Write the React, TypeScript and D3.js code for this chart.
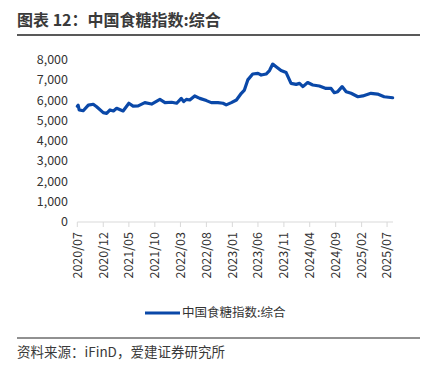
import React from "react";
import * as d3 from "d3";

const dates: string[] = [
  "2020-07-01","2020-07-06","2020-07-12","2020-08-05","2020-09-04","2020-10-03","2020-10-23","2020-12-01","2020-12-21",
  "2021-01-10","2021-01-30","2021-02-18","2021-03-28","2021-05-01","2021-05-26","2021-06-25","2021-08-03","2021-09-12",
  "2021-10-31","2021-11-30","2022-01-08","2022-02-07","2022-03-06","2022-03-20","2022-04-05","2022-04-25","2022-05-24",
  "2022-06-23","2022-08-01","2022-08-30","2022-10-08","2022-11-07","2022-11-26","2022-12-26","2023-01-25","2023-02-23",
  "2023-03-13","2023-04-02","2023-05-01","2023-06-01","2023-06-20","2023-07-19","2023-08-08","2023-08-27","2023-09-16",
  "2023-10-15","2023-11-14","2023-12-13","2024-01-12","2024-02-01","2024-02-21","2024-03-20","2024-04-19","2024-05-28",
  "2024-07-06","2024-08-05","2024-08-24","2024-09-13","2024-10-09","2024-11-02","2024-12-01","2025-01-10","2025-02-08",
  "2025-03-28","2025-05-06","2025-06-14","2025-08-03"
];
const values: number[] = [
  5700,5750,5520,5480,5760,5800,5680,5390,5350,
  5520,5470,5600,5470,5850,5710,5720,5880,5810,
  6040,5880,5900,5850,6090,5930,6040,6010,6210,
  6090,5980,5880,5880,5850,5770,5880,6010,6340,
  6500,7000,7290,7320,7240,7290,7460,7780,7650,
  7460,7360,6830,6780,6830,6670,6870,6750,6700,
  6580,6580,6370,6420,6670,6420,6340,6170,6210,
  6340,6300,6170,6120
];
const xTickLabels: string[] = ["2020/07","2020/12","2021/05","2021/10","2022/03","2022/08","2023/01","2023/06","2023/11","2024/04","2024/09","2025/02","2025/07"];
const yTicks: number[] = [0,1000,2000,3000,4000,5000,6000,7000,8000];
const seriesName = "中国食糖指数:综合";
const title = "图表 12：中国食糖指数:综合";
const source = "资料来源：iFinD，爱建证券研究所";

const W = 425, H = 365;
const FONT = "'Noto Sans CJK SC', 'Liberation Sans', sans-serif";
const LINE = "#0a48a8";

export default function App() {
  const parse = d3.timeParse("%Y-%m-%d");
  const parseM = d3.timeParse("%Y/%m");
  const data = dates.map((d, i) => ({ date: parse(d) as Date, v: values[i] }));
  const x = d3.scaleTime()
    .domain([parseM("2020/07") as Date, parse("2025-08-05") as Date])
    .range([77.3, 393]);
  const y = d3.scaleLinear().domain([0, 8000]).range([222, 59.6]);
  const line = d3.line<{ date: Date; v: number }>()
    .x(d => x(d.date)).y(d => y(d.v)).curve(d3.curveLinear);
  const fmt = d3.format(",");

  return (
    <svg width={W} height={H} style={{ position: "absolute", left: 0, top: 0, background: "#fff" }} fontFamily={FONT}>
      <text x={17} y={26} fontSize={16} fontWeight="bold" fill="#3a3a3a">{title}</text>
      <line x1={17} x2={420} y1={35} y2={35} stroke="#222" strokeWidth={1.5} />
      {yTicks.map(t => (
        <text key={t} x={68} y={y(t)} dy="0.35em" textAnchor="end" fontSize={12.5} fill="#333">{fmt(t)}</text>
      ))}
      <line x1={x(parseM("2020/07") as Date)} x2={393} y1={222} y2={222} stroke="#d9d9d9" strokeWidth={1} />
      {xTickLabels.map(l => {
        const xx = x(parseM(l) as Date);
        return (
          <g key={l}>
            <line x1={xx} x2={xx} y1={222} y2={227} stroke="#d9d9d9" strokeWidth={1} />
            <text transform={`translate(${xx},232) rotate(-90)`} dy="0.35em" textAnchor="end" fontSize={12.5} fill="#333">{l}</text>
          </g>
        );
      })}
      <path d={line(data) || ""} fill="none" stroke={LINE} strokeWidth={3.2} strokeLinejoin="round" strokeLinecap="round" />
      <line x1={145} x2={180} y1={313} y2={313} stroke={LINE} strokeWidth={3} />
      <text x={182} y={313} dy="0.35em" fontSize={12.5} fill="#333">{seriesName}</text>
      <line x1={17} x2={420} y1={338} y2={338} stroke="#222" strokeWidth={1} />
      <text x={17} y={352} dy="0.35em" fontSize={13.5} fill="#3a3a3a">{source}</text>
    </svg>
  );
}
